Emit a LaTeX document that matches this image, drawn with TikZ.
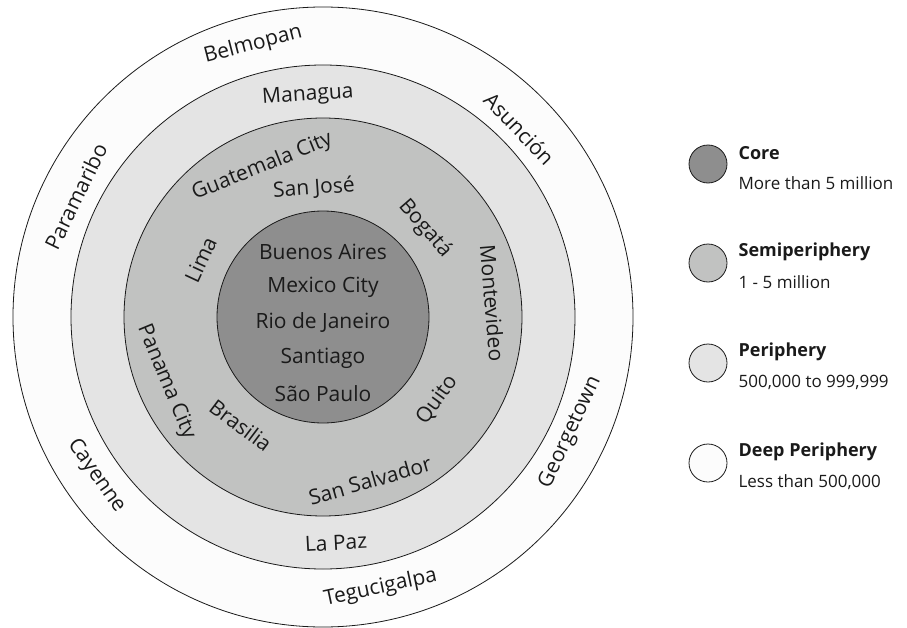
\documentclass[tikz,border=0pt]{standalone}
\usepackage{fontspec}
\setmainfont{Open Sans}
\usepackage{tikz}
\usetikzlibrary{positioning}
\usepackage{xcolor}
\definecolor{corefill}{HTML}{8E8E8E}
\definecolor{semifill}{HTML}{C1C2C1}
\definecolor{perifill}{HTML}{E4E4E4}
\definecolor{deepfill}{HTML}{FCFCFC}
\definecolor{ink}{HTML}{1A1A1A}

\begin{document}
\begin{tikzpicture}[x=1pt,y=1pt,
    city/.style={font=\fontsize{21}{21}\selectfont, text=ink, inner sep=0pt},
    ring/.style={draw=ink, line width=0.8pt},
    legdot/.style={circle, ring, minimum size=38pt, inner sep=0pt},
    legtitle/.style={font=\bfseries\fontsize{18}{18}\selectfont, text=ink, inner sep=0pt},
    legtext/.style={font=\fontsize{17}{17}\selectfont, text=ink, inner sep=0pt}]
    \useasboundingbox (-323,-310) rectangle (584,317);
    \coordinate (c) at (0,0);

    % rings, outside in
    \filldraw[ring, fill=deepfill] (c) circle [radius=310];
    \filldraw[ring, fill=perifill] (c) circle [radius=252];
    \filldraw[ring, fill=semifill] (c) circle [radius=199];
    \filldraw[ring, fill=corefill] (c) circle [radius=106];

    % deep periphery
    \node[city, rotate=14.4] (belmopan) at (104.4:281) {Belmopan};
    \node[city, rotate=-46.2] (asuncion) at (43.8:272) {Asunción};
    \node[city, rotate=64] (paramaribo) at (154:275) {Paramaribo};
    \node[city, rotate=-55] (cayenne) at (215:277) {Cayenne};
    \node[city, rotate=65] (georgetown) at (-25:273) {Georgetown};
    \node[city, rotate=12] (tegucigalpa) at (-78:277) {Tegucigalpa};

    % periphery
    \node[city, rotate=4] (managua) at (93.9:222) {Managua};
    \node[city, rotate=3] (lapaz) at (-86.7:226) {La Paz};

    % semiperiphery
    \node[city, rotate=22] (guatemala) at (112:162) {Guatemala City};
    \node[city, rotate=4] (sanjose) at (94:129) {San José};
    \node[city, rotate=-49] (bogata) at (41:135) {Bogatá};
    \node[city, rotate=65] (lima) at (155:135) {Lima};
    \node[city, rotate=-85.3] (montevideo) at (4.7:170) {Montevideo};
    \node[city, rotate=-67.5] (panama) at (202.5:170) {Panama City};
    \node[city, rotate=-37] (brasilia) at (232.8:136) {Brasilia};
    \node[city, rotate=54] (quito) at (-36:141) {Quito};
    \node[city, rotate=16] (sansalvador) at (-74:170) {San Salvador};

    % core
    \foreach \name [count=\i] in {Buenos Aires, Mexico City, Rio de Janeiro, Santiago, São Paulo}
        \node[city] (core\i) at (0,100-35.3*\i) {\name};

    % legend
    \node[legdot, fill=corefill] (lcore) at (385,153) {};
    \node[legtitle, right=11pt of lcore, yshift=11pt] (tcore) {Core};
    \node[legtext, right=11pt of lcore, yshift=-19pt] (score) {More than 5 million};
    \node[legdot, fill=semifill] (lsemi) at (385,54) {};
    \node[legtitle, right=11pt of lsemi, yshift=11pt] (tsemi) {Semiperiphery};
    \node[legtext, right=11pt of lsemi, yshift=-19pt] (ssemi) {1 - 5 million};
    \node[legdot, fill=perifill] (lperi) at (385,-46) {};
    \node[legtitle, right=11pt of lperi, yshift=11pt] (tperi) {Periphery};
    \node[legtext, right=11pt of lperi, yshift=-19pt] (speri) {500,000 to 999,999};
    \node[legdot, fill=deepfill] (ldeep) at (385,-146) {};
    \node[legtitle, right=11pt of ldeep, yshift=11pt] (tdeep) {Deep Periphery};
    \node[legtext, right=11pt of ldeep, yshift=-19pt] (sdeep) {Less than 500,000};
\end{tikzpicture}
\end{document}
